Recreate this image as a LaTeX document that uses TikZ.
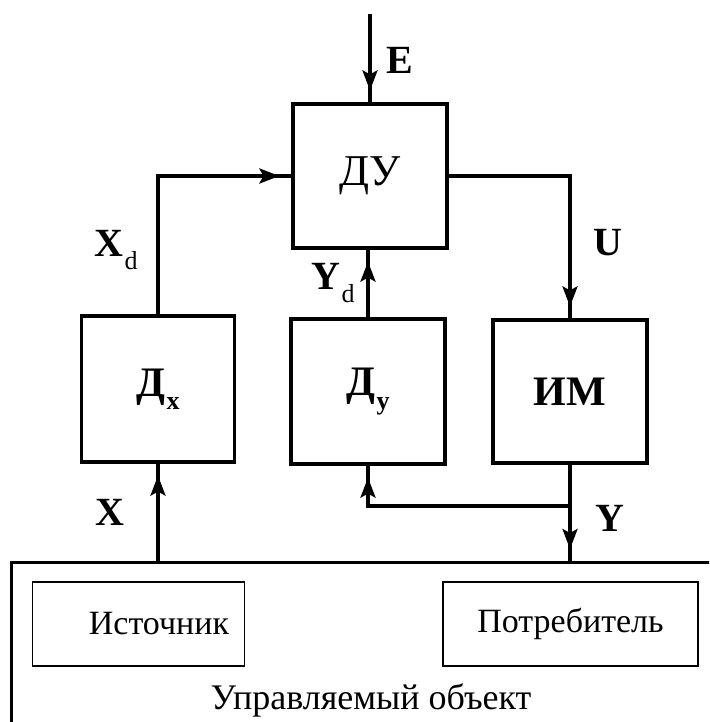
\documentclass[tikz,border=0pt]{standalone}
\usepackage{fontspec}
\setmainfont{Liberation Serif}
\usetikzlibrary{arrows.meta,calc}
\newcommand{\sbx}[1]{\kern1.5pt\raisebox{-0.32em}{\fontsize{26}{26}\selectfont #1}}
\begin{document}
\begin{tikzpicture}[x=1pt,y=-1pt,
  blk/.style={draw,line width=3.2pt,inner sep=0pt},
  sbox/.style={draw,line width=1.8pt,inner sep=0pt},
  wire/.style={line width=3.2pt},
  arr/.style={line width=3.2pt,-{Stealth[length=20pt,width=15pt,inset=4pt]},shorten >=12pt},
  lbl/.style={font=\fontsize{40}{44}\selectfont\bfseries,inner sep=0pt},
  txt/.style={font=\fontsize{34}{38}\selectfont,inner sep=0pt}]
\useasboundingbox (0,0) rectangle (709,722);
\clip (0,0) rectangle (709,722);
% outer object
\node[draw,line width=3.2pt,anchor=north west,minimum width=760pt,minimum height=200pt,inner sep=0pt] (OBJ) at (10,561) {};
% blocks
\node[blk,minimum width=154pt,minimum height=144pt] (DU) at (370,176) {\fontsize{44}{46}\selectfont ДУ};
\node[blk,minimum width=153pt,minimum height=146pt] (Dx) at (158,389) {\fontsize{42}{44}\selectfont\bfseries Д\sbx{x}};
\node[blk,minimum width=154pt,minimum height=145pt] (Dy) at (368,391.5) {\fontsize{42}{44}\selectfont\bfseries Д\sbx{y}};
\node[blk,minimum width=154pt,minimum height=143pt] (IM) at (570,391.5) {\fontsize{42}{44}\selectfont\bfseries ИМ};
% inner boxes
\node[sbox,minimum width=212pt,minimum height=84pt] (SRC) at (138.5,624) {};
\node[txt] (SRCt) at (159,624) {Источник};
\node[sbox,minimum width=255pt,minimum height=84pt,txt] (CON) at (570.5,624) {Потребитель};
\node[txt,font=\fontsize{36}{40}\selectfont] (CAP) at (371,700) {Управляемый объект};
% connectors
\coordinate (E0) at (370,14);
\draw[wire] (E0) -- (DU.north);
\draw[arr] (E0) -- (DU.north);
\draw[wire] (Dx.north) |- (DU.west);
\draw[arr] (Dx.north |- DU.west) -- (DU.west);
\draw[wire] (DU.east) -| (IM.north);
\draw[arr] (DU.east -| IM.north) -- (IM.north);
\draw[wire] (Dy.north) -- (Dy.north |- DU.south);
\draw[arr] (Dy.north) -- (Dy.north |- DU.south);
\draw[wire] (Dx.south |- OBJ.north) -- (Dx.south);
\draw[arr] (Dx.south |- OBJ.north) -- (Dx.south);
\draw[wire] (IM.south) -- (IM.south |- OBJ.north);
\draw[arr] (IM.south) -- (IM.south |- OBJ.north);
\coordinate (J) at (570,506);
\draw[wire] (J) -| (Dy.south);
\draw[arr] (J -| Dy.south) -- (Dy.south);
% labels
\node[lbl] (lE) at (400,60) {E};
\node[lbl] (lXd) at (116,250) {X\sbx{\mdseries d}};
\node[lbl] (lYd) at (333,283) {Y\sbx{\mdseries d}};
\node[lbl] (lU) at (608,243) {U};
\node[lbl] (lX) at (110,512) {X};
\node[lbl] (lY) at (610,518) {Y};
\end{tikzpicture}
\end{document}
